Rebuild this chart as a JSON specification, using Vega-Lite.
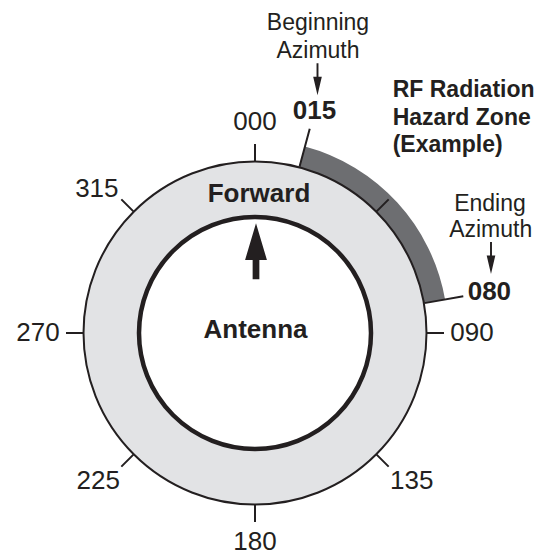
{
  "$schema": "https://vega.github.io/schema/vega-lite/v6.json",
  "width": 440,
  "height": 440,
  "autosize": "none",
  "padding": {"left": 35, "top": 113, "right": 67, "bottom": 3},
  "background": "white",
  "config": {"view": {"stroke": null}, "font": "Liberation Sans", "text": {"font": "Liberation Sans", "color": "#231f20"}},
  "datasets": {
    "ring": [{"from": 0, "to": 360}],
    "zone": [{"from": 15, "to": 80}],
    "bounds": [{"az": 15, "label": "015"}, {"az": 80, "label": "080"}],
    "azimuths": [
      {"az": 0, "label": "000"}, {"az": 45, "label": ""}, {"az": 90, "label": "090"}, {"az": 135, "label": "135"},
      {"az": 180, "label": "180"}, {"az": 225, "label": "225"}, {"az": 270, "label": "270"}, {"az": 315, "label": "315"}
    ]
  },
  "layer": [
    {
      "data": {"name": "ring"},
      "mark": {"type": "arc", "fill": "#e2e3e5", "stroke": null},
      "encoding": {
        "theta": {"field": "from", "type": "quantitative", "stack": null, "scale": {"domain": [0, 360], "range": [0, 6.283185307179586], "nice": false, "zero": true}},
        "theta2": {"field": "to"},
        "radius": {"datum": 171.5, "type": "quantitative", "scale": {"type": "linear", "domain": [0, 220], "range": [0, 220], "nice": false, "zero": true}},
        "radius2": {"datum": 116}
      }
    },
    {
      "data": {"name": "zone"},
      "mark": {"type": "arc", "fill": "#6d6e71", "stroke": null},
      "encoding": {
        "theta": {"field": "from", "type": "quantitative", "stack": null},
        "theta2": {"field": "to"},
        "radius": {"datum": 193, "type": "quantitative"},
        "radius2": {"datum": 171.5}
      }
    },
    {
      "data": {"name": "ring"},
      "mark": {"type": "arc", "fillOpacity": 0, "stroke": "#231f20", "strokeWidth": 2},
      "encoding": {
        "theta": {"field": "from", "type": "quantitative", "stack": null},
        "theta2": {"field": "to"},
        "radius": {"datum": 171.5, "type": "quantitative"},
        "radius2": {"datum": 0}
      }
    },
    {
      "data": {"name": "ring"},
      "mark": {"type": "arc", "fillOpacity": 0, "stroke": "#231f20", "strokeWidth": 4.5},
      "encoding": {
        "theta": {"field": "from", "type": "quantitative", "stack": null},
        "theta2": {"field": "to"},
        "radius": {"datum": 116, "type": "quantitative"},
        "radius2": {"datum": 0}
      }
    },
    {
      "data": {"name": "azimuths"},
      "mark": {"type": "arc", "fillOpacity": 0, "stroke": "#231f20", "strokeWidth": 2},
      "encoding": {
        "theta": {"field": "az", "type": "quantitative", "stack": null},
        "theta2": {"field": "az"},
        "radius": {"datum": 189, "type": "quantitative"},
        "radius2": {"datum": 172}
      }
    },
    {
      "data": {"name": "bounds"},
      "mark": {"type": "arc", "fillOpacity": 0, "stroke": "#231f20", "strokeWidth": 2},
      "encoding": {
        "theta": {"field": "az", "type": "quantitative", "stack": null},
        "theta2": {"field": "az"},
        "radius": {"datum": 211.5, "type": "quantitative"},
        "radius2": {"datum": 172}
      }
    },
    {
      "data": {"name": "azimuths"},
      "transform": [{"filter": "datum.az == 0"}],
      "mark": {"type": "text", "fontSize": 26, "align": "center", "baseline": "middle"},
      "encoding": {
        "theta": {"field": "az", "type": "quantitative", "stack": null},
        "radius": {"datum": 211.5, "type": "quantitative"},
        "text": {"field": "label"}
      }
    },
    {
      "data": {"name": "azimuths"},
      "transform": [{"filter": "datum.az == 180"}],
      "mark": {"type": "text", "fontSize": 26, "align": "center", "baseline": "middle"},
      "encoding": {
        "theta": {"field": "az", "type": "quantitative", "stack": null},
        "radius": {"datum": 209, "type": "quantitative"},
        "text": {"field": "label"}
      }
    },
    {
      "data": {"name": "azimuths"},
      "transform": [{"filter": "datum.az == 90 || datum.az == 270"}],
      "mark": {"type": "text", "fontSize": 26, "align": "center", "baseline": "middle"},
      "encoding": {
        "theta": {"field": "az", "type": "quantitative", "stack": null},
        "radius": {"datum": 217, "type": "quantitative"},
        "text": {"field": "label"}
      }
    },
    {
      "data": {"name": "azimuths"},
      "transform": [{"filter": "datum.az == 135"}],
      "mark": {"type": "text", "fontSize": 26, "align": "left", "baseline": "top"},
      "encoding": {
        "theta": {"field": "az", "type": "quantitative", "stack": null},
        "radius": {"datum": 191, "type": "quantitative"},
        "text": {"field": "label"}
      }
    },
    {
      "data": {"name": "azimuths"},
      "transform": [{"filter": "datum.az == 225"}],
      "mark": {"type": "text", "fontSize": 26, "align": "right", "baseline": "top"},
      "encoding": {
        "theta": {"field": "az", "type": "quantitative", "stack": null},
        "radius": {"datum": 191, "type": "quantitative"},
        "text": {"field": "label"}
      }
    },
    {
      "data": {"name": "azimuths"},
      "transform": [{"filter": "datum.az == 315"}],
      "mark": {"type": "text", "fontSize": 26, "align": "right", "baseline": "alphabetic"},
      "encoding": {
        "theta": {"field": "az", "type": "quantitative", "stack": null},
        "radius": {"datum": 193, "type": "quantitative"},
        "text": {"field": "label"}
      }
    },
    {
      "data": {"name": "bounds"},
      "transform": [{"filter": "datum.az == 15"}],
      "mark": {"type": "text", "fontSize": 26, "fontWeight": "bold", "align": "center", "baseline": "middle"},
      "encoding": {
        "theta": {"field": "az", "type": "quantitative", "stack": null},
        "radius": {"datum": 230, "type": "quantitative"},
        "text": {"field": "label"}
      }
    },
    {
      "data": {"name": "bounds"},
      "transform": [{"filter": "datum.az == 80"}],
      "mark": {"type": "text", "fontSize": 26, "fontWeight": "bold", "align": "center", "baseline": "middle"},
      "encoding": {
        "theta": {"field": "az", "type": "quantitative", "stack": null},
        "radius": {"datum": 238, "type": "quantitative"},
        "text": {"field": "label"}
      }
    },
    {
      "data": {"values": [
        {"x": 63, "y": 303, "text": "Beginning"},
        {"x": 63, "y": 275, "text": "Azimuth"},
        {"x": 235, "y": 122.3, "text": "Ending"},
        {"x": 235.7, "y": 95.7, "text": "Azimuth"}
      ]},
      "mark": {"type": "text", "fontSize": 23, "align": "center", "baseline": "alphabetic"},
      "encoding": {
        "x": {"field": "x", "type": "quantitative", "scale": {"domain": [-220, 220], "nice": false, "zero": false}, "axis": null},
        "y": {"field": "y", "type": "quantitative", "scale": {"domain": [-220, 220], "nice": false, "zero": false}, "axis": null},
        "text": {"field": "text"}
      }
    },
    {
      "data": {"values": [
        {"x": 137.7, "y": 235.7, "text": "RF Radiation"},
        {"x": 137.7, "y": 208, "text": "Hazard Zone"},
        {"x": 137.7, "y": 181, "text": "(Example)"}
      ]},
      "mark": {"type": "text", "fontSize": 23, "fontWeight": "bold", "align": "left", "baseline": "alphabetic"},
      "encoding": {
        "x": {"field": "x", "type": "quantitative"},
        "y": {"field": "y", "type": "quantitative"},
        "text": {"field": "text"}
      }
    },
    {
      "data": {"values": [
        {"x": 4, "y": 131.3, "text": "Forward"},
        {"x": 0.5, "y": -5.3, "text": "Antenna"}
      ]},
      "mark": {"type": "text", "fontSize": 26, "fontWeight": "bold", "align": "center", "baseline": "alphabetic"},
      "encoding": {
        "x": {"field": "x", "type": "quantitative"},
        "y": {"field": "y", "type": "quantitative"},
        "text": {"field": "text"}
      }
    },
    {
      "data": {"values": [
        {"x": 62.5, "y": 253.8, "arrow": "Beginning"},
        {"x": 236, "y": 75, "arrow": "Ending"}
      ]},
      "mark": {"type": "point", "filled": true, "color": "#231f20", "opacity": 1, "size": 1024, "strokeWidth": 0,
        "shape": "M0,1 L-0.27,-0.15 L-0.06,-0.15 L-0.06,-1 L0.06,-1 L0.06,-0.15 L0.27,-0.15 Z"},
      "encoding": {
        "x": {"field": "x", "type": "quantitative"},
        "y": {"field": "y", "type": "quantitative"}
      }
    },
    {
      "data": {"values": [{"x": 1, "y": 81.7, "arrow": "Forward"}]},
      "mark": {"type": "point", "filled": true, "color": "#231f20", "opacity": 1, "size": 3136, "strokeWidth": 0,
        "shape": "M0,-1 L0.39,0.31 L0.12,0.31 L0.12,1 L-0.12,1 L-0.12,0.31 L-0.39,0.31 Z"},
      "encoding": {
        "x": {"field": "x", "type": "quantitative"},
        "y": {"field": "y", "type": "quantitative"}
      }
    }
  ]
}
